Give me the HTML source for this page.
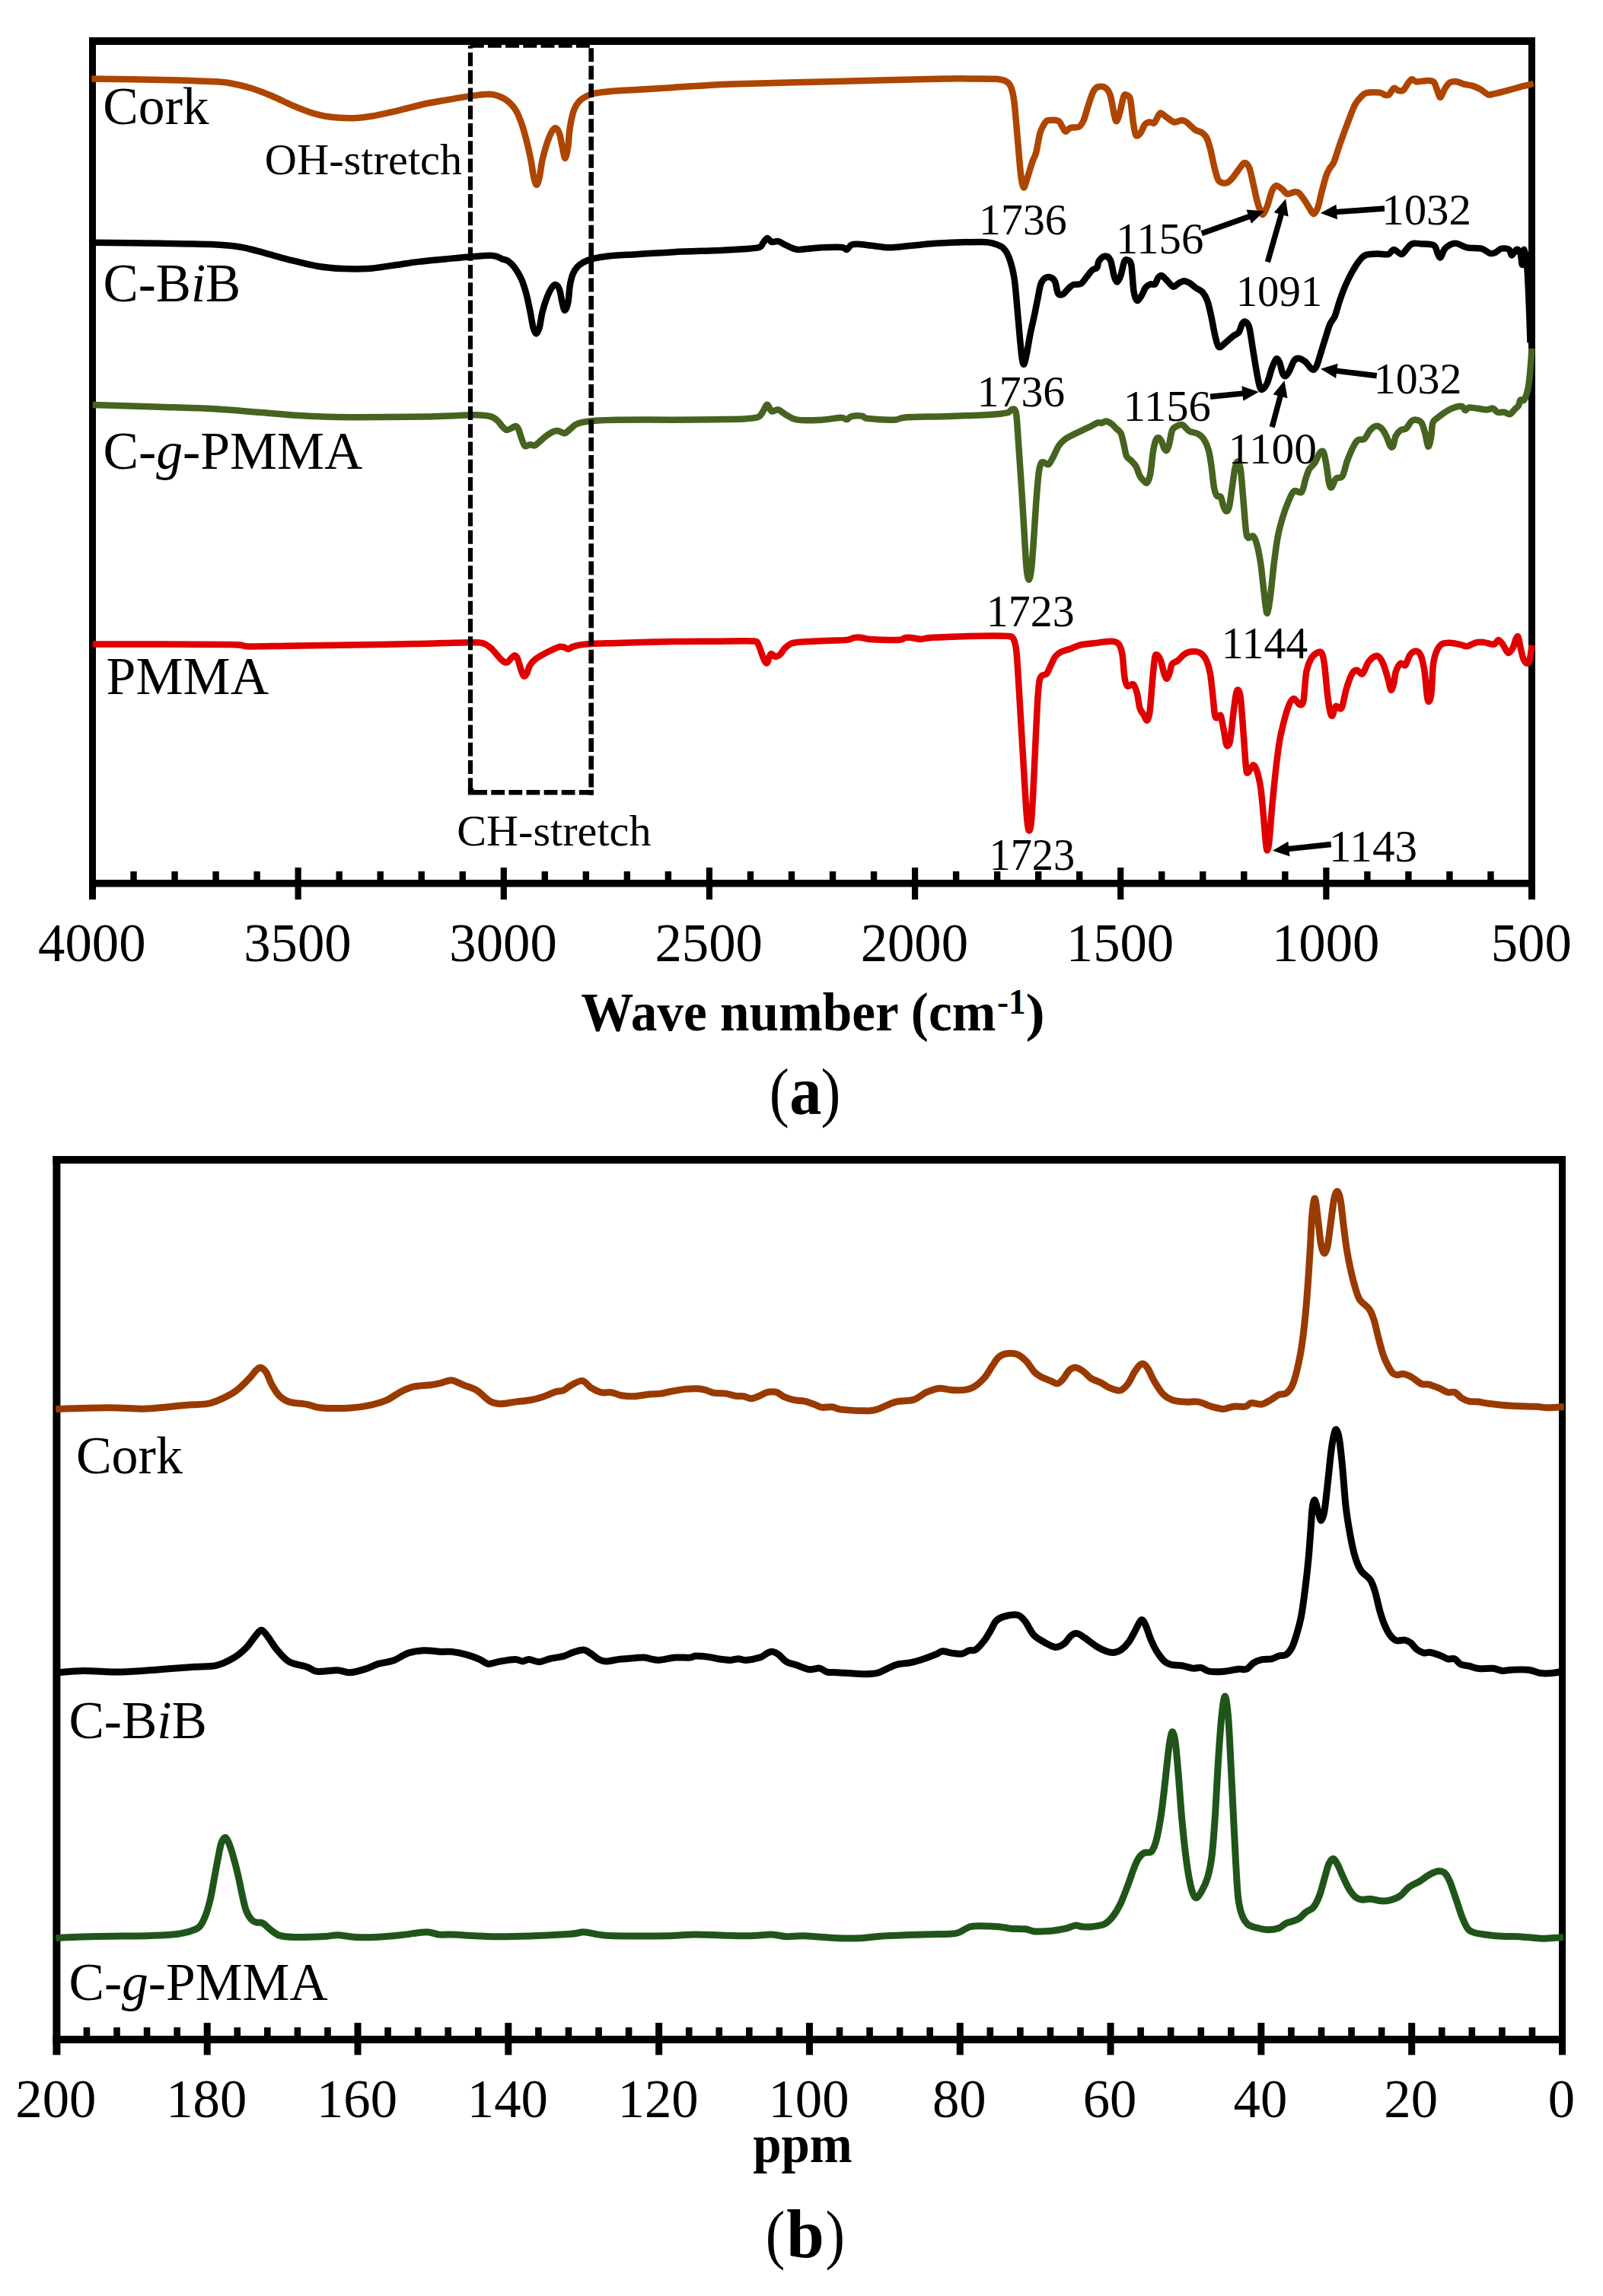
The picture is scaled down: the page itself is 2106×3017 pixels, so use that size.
<!DOCTYPE html>
<html><head><meta charset="utf-8"><title>FTIR and NMR spectra</title>
<style>html,body{margin:0;padding:0;background:#fff}svg{display:block}text{font-family:"Liberation Serif",serif;fill:#000}</style>
</head><body>
<svg width="2106" height="3017" viewBox="0 0 2106 3017">
<rect width="2106" height="3017" fill="#fff"/>
<rect x="117" y="49" width="1900" height="10" fill="#000"/>
<rect x="117" y="49" width="9" height="1133" fill="#000"/>
<rect x="2008" y="49" width="9" height="1133" fill="#000"/>
<rect x="117" y="1156" width="1900" height="9.5" fill="#000"/>
<rect x="387.54" y="1140" width="8.2" height="42" fill="#000"/>
<rect x="657.69" y="1140" width="8.2" height="42" fill="#000"/>
<rect x="927.83" y="1140" width="8.2" height="42" fill="#000"/>
<rect x="1197.97" y="1140" width="8.2" height="42" fill="#000"/>
<rect x="1468.11" y="1140" width="8.2" height="42" fill="#000"/>
<rect x="1738.26" y="1140" width="8.2" height="42" fill="#000"/>
<rect x="171.33" y="1145" width="8.4" height="15" fill="#000"/>
<rect x="225.36" y="1145" width="8.4" height="15" fill="#000"/>
<rect x="279.39" y="1145" width="8.4" height="15" fill="#000"/>
<rect x="333.41" y="1145" width="8.4" height="15" fill="#000"/>
<rect x="441.47" y="1145" width="8.4" height="15" fill="#000"/>
<rect x="495.5" y="1145" width="8.4" height="15" fill="#000"/>
<rect x="549.53" y="1145" width="8.4" height="15" fill="#000"/>
<rect x="603.56" y="1145" width="8.4" height="15" fill="#000"/>
<rect x="711.61" y="1145" width="8.4" height="15" fill="#000"/>
<rect x="765.64" y="1145" width="8.4" height="15" fill="#000"/>
<rect x="819.67" y="1145" width="8.4" height="15" fill="#000"/>
<rect x="873.7" y="1145" width="8.4" height="15" fill="#000"/>
<rect x="981.76" y="1145" width="8.4" height="15" fill="#000"/>
<rect x="1035.79" y="1145" width="8.4" height="15" fill="#000"/>
<rect x="1089.81" y="1145" width="8.4" height="15" fill="#000"/>
<rect x="1143.84" y="1145" width="8.4" height="15" fill="#000"/>
<rect x="1251.9" y="1145" width="8.4" height="15" fill="#000"/>
<rect x="1305.93" y="1145" width="8.4" height="15" fill="#000"/>
<rect x="1359.96" y="1145" width="8.4" height="15" fill="#000"/>
<rect x="1413.99" y="1145" width="8.4" height="15" fill="#000"/>
<rect x="1522.04" y="1145" width="8.4" height="15" fill="#000"/>
<rect x="1576.07" y="1145" width="8.4" height="15" fill="#000"/>
<rect x="1630.1" y="1145" width="8.4" height="15" fill="#000"/>
<rect x="1684.13" y="1145" width="8.4" height="15" fill="#000"/>
<rect x="1792.19" y="1145" width="8.4" height="15" fill="#000"/>
<rect x="1846.21" y="1145" width="8.4" height="15" fill="#000"/>
<rect x="1900.24" y="1145" width="8.4" height="15" fill="#000"/>
<rect x="1954.27" y="1145" width="8.4" height="15" fill="#000"/>
<path transform="translate(0,0.4)" d="M120.3,103C135.12,103.27 187.09,104.09 212.9,104.7C238.71,105.31 267.33,106.14 281.6,106.8C295.87,107.46 294.42,107.44 302.1,108.8C309.78,110.16 320.82,112.61 329.6,115.3C338.38,117.99 348.22,121.92 357,125.6C365.78,129.28 376.26,134.78 384.5,138.3C392.74,141.82 400.82,145.23 408.5,147.6C416.18,149.97 423.72,151.95 432.5,153.1C441.28,154.25 454.62,154.91 463.4,154.8C472.18,154.69 478.07,153.94 487.4,152.4C496.73,150.86 510.72,147.73 521.7,145.2C532.68,142.67 545.87,138.83 556,136.6C566.13,134.37 575.56,132.91 585,131.25C594.44,129.59 607,127.45 615,126.25C623,125.05 629.8,124.15 635,123.75C640.2,123.35 643.5,123.07 647.5,123.75C651.5,124.43 656.4,126.2 660,128C663.6,129.8 667,132.08 670,135C673,137.92 676.15,141.45 678.75,146.25C681.35,151.05 684.05,158.4 686.25,165C688.45,171.6 690.7,180.3 692.5,187.5C694.3,194.7 696.1,202.8 697.5,210C698.9,217.2 700.05,227.3 701.25,232.5C702.45,237.7 703.8,242.5 705,242.5C706.2,242.5 707.55,237.7 708.75,232.5C709.95,227.3 710.9,217.2 712.5,210C714.1,202.8 716.75,193.5 718.75,187.5C720.75,181.5 723.2,175.62 725,172.5C726.8,169.38 728.4,167.6 730,168C731.6,168.4 733.6,171.08 735,175C736.4,178.92 737.55,187.3 738.75,192.5C739.95,197.7 741.3,207.5 742.5,207.5C743.7,207.5 745.25,198.9 746.25,192.5C747.25,186.1 747.55,175.1 748.75,167.5C749.95,159.9 751.95,150.4 753.75,145C755.55,139.6 757.6,136.63 760,133.75C762.4,130.87 765.55,128.8 768.75,127C771.95,125.2 775.4,123.62 780,122.5C784.6,121.38 788.7,120.8 797.5,120C806.3,119.2 821,118.38 835,117.5C849,116.62 864.88,115.7 885,114.5C905.12,113.3 926.35,111.28 960.75,110C995.15,108.72 1055.32,107.62 1100,106.5C1144.68,105.38 1212.4,103.56 1240,103C1267.6,102.44 1261.7,102.96 1272.5,103C1283.3,103.04 1299.9,102.85 1307.5,103.25C1315.1,103.65 1316.8,104.02 1320,105.5C1323.2,106.98 1325.58,108.58 1327.5,112.5C1329.42,116.42 1330.8,122.4 1332,130C1333.2,137.6 1334.04,149.6 1335,160C1335.96,170.4 1337,183.8 1338,195C1339,206.2 1340.13,221.84 1341.25,230C1342.37,238.16 1343.6,245.6 1345,246C1346.4,246.4 1348.2,237.86 1350,232.5C1351.8,227.14 1354.45,217.7 1356.25,212.5C1358.05,207.3 1359.65,206 1361.25,200C1362.85,194 1364.65,180.8 1366.25,175C1367.85,169.2 1369.65,166.47 1371.25,163.75C1372.85,161.03 1373.25,158.88 1376.25,158C1379.25,157.12 1387,157.13 1390,158.25C1393,159.37 1393.4,162.72 1395,165C1396.6,167.28 1398.2,172.1 1400,172.5C1401.8,172.9 1403.45,168.5 1406.25,167.5C1409.05,166.5 1414.7,167.85 1417.5,166.25C1420.3,164.65 1421.75,162.1 1423.75,157.5C1425.75,152.9 1428,143.5 1430,137.5C1432,131.5 1434.25,123.8 1436.25,120C1438.25,116.2 1439.9,114.55 1442.5,113.75C1445.1,112.95 1449.9,113.2 1452.5,115C1455.1,116.8 1456.95,119.4 1458.75,125C1460.55,130.6 1462.43,144.6 1463.75,150C1465.07,155.4 1465.8,159.15 1467,158.75C1468.2,158.35 1469.77,152.7 1471.25,147.5C1472.73,142.3 1474.85,129.93 1476.25,126.25C1477.65,122.57 1478.6,123.9 1480,124.5C1481.4,125.1 1483.6,124.32 1485,130C1486.4,135.68 1487.55,152.4 1488.75,160C1489.95,167.6 1490.9,175.3 1492.5,177.5C1494.1,179.7 1496.95,175.95 1498.75,173.75C1500.55,171.55 1501.95,165.95 1503.75,163.75C1505.55,161.55 1508,160.4 1510,160C1512,159.6 1514.45,162.45 1516.25,161.25C1518.05,160.05 1519.85,154.62 1521.25,152.5C1522.65,150.38 1523.4,148 1525,148C1526.6,148 1528.45,150.58 1531.25,152.5C1534.05,154.42 1539.1,159.2 1542.5,160C1545.9,160.8 1549.9,157.5 1552.5,157.5C1555.1,157.5 1555.95,158 1558.75,160C1561.55,162 1566.8,167.8 1570,170C1573.2,172.2 1576.35,172.15 1578.75,173.75C1581.15,175.35 1583.2,176.6 1585,180C1586.8,183.4 1588.4,189 1590,195C1591.6,201 1593.4,211.1 1595,217.5C1596.6,223.9 1598.4,231.48 1600,235C1601.6,238.52 1603,238.78 1605,239.5C1607,240.22 1610.1,240.62 1612.5,239.5C1614.9,238.38 1617.4,235.54 1620,232.5C1622.6,229.46 1626.35,223.54 1628.75,220.5C1631.15,217.46 1633,213.58 1635,213.5C1637,213.42 1639.45,215.76 1641.25,220C1643.05,224.24 1644.65,233.2 1646.25,240C1647.85,246.8 1649.65,256.5 1651.25,262.5C1652.85,268.5 1654.93,274.54 1656.25,277.5C1657.57,280.46 1658.1,282.2 1659.5,281C1660.9,279.8 1663.12,274.96 1665,270C1666.88,265.04 1669.33,254.24 1671.25,250C1673.17,245.76 1674.8,243.7 1677,243.5C1679.2,243.3 1682.72,246.99 1685,248.75C1687.28,250.51 1688.85,253.98 1691.25,254.5C1693.65,255.02 1697.6,252.24 1700,252C1702.4,251.76 1704.05,251.32 1706.25,253C1708.45,254.68 1711.55,259.38 1713.75,262.5C1715.95,265.62 1718.12,269.62 1720,272.5C1721.88,275.38 1723.7,280.5 1725.5,280.5C1727.3,280.5 1729.53,276.98 1731.25,272.5C1732.97,268.02 1734.45,259.3 1736.25,252.5C1738.05,245.7 1740.7,235.2 1742.5,230C1744.3,224.8 1745.9,222.8 1747.5,220C1749.1,217.2 1750.5,217.3 1752.5,212.5C1754.5,207.7 1757.2,198 1760,190C1762.8,182 1766.8,170.9 1770,162.5C1773.2,154.1 1777.2,143.1 1780,137.5C1782.8,131.9 1785.1,130.02 1787.5,127.5C1789.9,124.98 1791,122.75 1795,121.75C1799,120.75 1808.5,120.81 1812.5,121.25C1816.5,121.69 1818,124.1 1820,124.5C1822,124.9 1823.2,125.19 1825,123.75C1826.8,122.31 1829.25,116.3 1831.25,115.5C1833.25,114.7 1835.5,118.35 1837.5,118.75C1839.5,119.15 1841.75,119.6 1843.75,118C1845.75,116.4 1848.2,111.03 1850,108.75C1851.8,106.47 1853.2,104.03 1855,103.75C1856.8,103.47 1858.05,106.72 1861.25,107C1864.45,107.28 1871.4,105.42 1875,105.5C1878.6,105.58 1881.55,105.18 1883.75,107.5C1885.95,109.82 1887.35,116.8 1888.75,120C1890.15,123.2 1891.1,127.9 1892.5,127.5C1893.9,127.1 1895.7,120.5 1897.5,117.5C1899.3,114.5 1901.75,110.47 1903.75,108.75C1905.75,107.03 1908,106.95 1910,106.75C1912,106.55 1914.25,106.98 1916.25,107.5C1918.25,108.02 1919.5,109.2 1922.5,110C1925.5,110.8 1931.4,111.38 1935,112.5C1938.6,113.62 1941.8,115.2 1945,117C1948.2,118.8 1952.2,122.79 1955,123.75C1957.8,124.71 1958.1,123.92 1962.5,123C1966.9,122.08 1976.5,119.6 1982.5,118C1988.5,116.4 1994.88,114.36 2000,113C2005.12,111.64 2012.18,110.06 2014.5,109.5" fill="none" stroke="#AE4500" stroke-width="8.5" stroke-linejoin="round" stroke-linecap="butt"/>
<path transform="translate(0,0.4)" d="M121.5,318.3C135.66,318.46 185.17,318.92 210,319.3C234.83,319.68 259.63,319.9 276.7,320.7C293.77,321.5 304.97,322.38 316.7,324.3C328.43,326.22 339.34,329.92 350,332.7C360.66,335.48 372.63,339.04 383.3,341.7C393.97,344.36 406.03,347.54 416.7,349.3C427.37,351.06 439.34,352.16 450,352.7C460.66,353.24 472.63,353.4 483.3,352.7C493.97,352 506.03,349.77 516.7,348.3C527.37,346.83 539.07,344.83 550,343.5C560.93,342.17 574.2,341.04 585,340C595.8,338.96 607.5,337.72 617.5,337C627.5,336.28 640.7,335.02 647.5,335.5C654.3,335.98 656.8,338.88 660,340C663.2,341.12 664.9,340.7 667.5,342.5C670.1,344.3 673.45,347.45 676.25,351.25C679.05,355.05 682.6,360.85 685,366.25C687.4,371.65 689.45,378.4 691.25,385C693.05,391.6 694.77,400.3 696.25,407.5C697.73,414.7 699.18,425.12 700.5,430C701.82,434.88 703.18,438 704.5,438C705.82,438 707.47,434.48 708.75,430C710.03,425.52 710.9,416.4 712.5,410C714.1,403.6 716.75,395.2 718.75,390C720.75,384.8 723.2,380.1 725,377.5C726.8,374.9 728.4,373.35 730,373.75C731.6,374.15 733.6,376.2 735,380C736.4,383.8 737.63,393.1 738.75,397.5C739.87,401.9 740.8,407.5 742,407.5C743.2,407.5 745.17,402.7 746.25,397.5C747.33,392.3 747.75,381 748.75,375C749.75,369 750.9,364 752.5,360C754.1,356 756.35,352.6 758.75,350C761.15,347.4 764.1,345.47 767.5,343.75C770.9,342.03 775.2,340.45 780,339.25C784.8,338.05 788.7,337.13 797.5,336.25C806.3,335.37 821,334.63 835,333.75C849,332.87 868.2,331.55 885,330.75C901.8,329.95 927.2,329.27 940,328.75C952.8,328.23 956,328.1 965,327.5C974,326.9 990.25,326.4 996.25,325C1002.25,323.6 1000.62,320.75 1002.5,318.75C1004.38,316.75 1006.2,312.7 1008,312.5C1009.8,312.3 1011.43,316.82 1013.75,317.5C1016.07,318.18 1019.5,316.07 1022.5,316.75C1025.5,317.43 1028.5,320.03 1032.5,321.75C1036.5,323.47 1041.5,326.9 1047.5,327.5C1053.5,328.1 1060.8,325.98 1070,325.5C1079.2,325.02 1098.2,324.18 1105,324.5C1111.8,324.82 1110.3,328.02 1112.5,327.5C1114.7,326.98 1115.95,322.37 1118.75,321.25C1121.55,320.13 1123.4,320.02 1130,320.5C1136.6,320.98 1152.8,323.61 1160,324.25C1167.2,324.89 1166.2,325.1 1175,324.5C1183.8,323.9 1204.6,321.42 1215,320.5C1225.4,319.58 1228,319.23 1240,318.75C1252,318.27 1279.6,317.38 1290,317.5C1300.4,317.62 1300.6,318.3 1305,319.5C1309.4,320.7 1314.14,321.88 1317.5,325C1320.86,328.12 1323.6,332.6 1326,339C1328.4,345.4 1330.86,354.84 1332.5,365C1334.14,375.16 1335.05,389.7 1336.25,402.5C1337.45,415.3 1338.92,433.8 1340,445C1341.08,456.2 1342.12,467.22 1343,472.5C1343.88,477.78 1344.58,479.2 1345.5,478C1346.42,476.8 1347.43,471.48 1348.75,465C1350.07,458.52 1352.15,445.5 1353.75,437.5C1355.35,429.5 1357.15,422.6 1358.75,415C1360.35,407.4 1362.35,396.8 1363.75,390C1365.15,383.2 1365.9,376.58 1367.5,372.5C1369.1,368.42 1371.55,365.78 1373.75,364.5C1375.95,363.22 1379.25,363.62 1381.25,364.5C1383.25,365.38 1384.85,366.72 1386.25,370C1387.65,373.28 1388.4,382.4 1390,385C1391.6,387.6 1394.05,387.25 1396.25,386.25C1398.45,385.25 1401.55,380.75 1403.75,378.75C1405.95,376.75 1407.4,374.75 1410,373.75C1412.6,372.75 1417.2,374.1 1420,372.5C1422.8,370.9 1425.1,366.63 1427.5,363.75C1429.9,360.87 1432.8,356.5 1435,354.5C1437.2,352.5 1439.85,353.17 1441.25,351.25C1442.65,349.33 1442.15,344.9 1443.75,342.5C1445.35,340.1 1448.85,336.45 1451.25,336.25C1453.65,336.05 1456.75,337.05 1458.75,341.25C1460.75,345.45 1462.27,357.9 1463.75,362.5C1465.23,367.1 1466.6,370.2 1468,370C1469.4,369.8 1471.06,365.45 1472.5,361.25C1473.94,357.05 1475.6,346.95 1477,343.75C1478.4,340.55 1479.77,340.65 1481.25,341.25C1482.73,341.85 1484.93,340.9 1486.25,347.5C1487.57,354.1 1488.3,374.98 1489.5,382.5C1490.7,390.02 1492.07,393.7 1493.75,394.5C1495.43,395.3 1498.2,390.22 1500,387.5C1501.8,384.78 1503.2,379.82 1505,377.5C1506.8,375.18 1509.25,373.72 1511.25,373C1513.25,372.28 1515.9,374.28 1517.5,373C1519.1,371.72 1519.85,366.8 1521.25,365C1522.65,363.2 1524.45,361.35 1526.25,361.75C1528.05,362.15 1530.1,365.18 1532.5,367.5C1534.9,369.82 1538.85,375.45 1541.25,376.25C1543.65,377.05 1545.3,373.7 1547.5,372.5C1549.7,371.3 1552.6,368.95 1555,368.75C1557.4,368.55 1559.9,369.77 1562.5,371.25C1565.1,372.73 1568.45,376 1571.25,378C1574.05,380 1577.6,381.03 1580,383.75C1582.4,386.47 1584.45,390 1586.25,395C1588.05,400 1589.65,407.8 1591.25,415C1592.85,422.2 1594.65,433.52 1596.25,440C1597.85,446.48 1599.05,453.9 1601.25,455.5C1603.45,457.1 1607,452.28 1610,450C1613,447.72 1617.2,443.45 1620,441.25C1622.8,439.05 1625.58,438.85 1627.5,436.25C1629.42,433.65 1630.6,427.2 1632,425C1633.4,422.8 1634.77,421.7 1636.25,422.5C1637.73,423.3 1639.65,424 1641.25,430C1642.85,436 1644.65,450.4 1646.25,460C1647.85,469.6 1649.85,482.4 1651.25,490C1652.65,497.6 1653.84,504.1 1655,507.5C1656.16,510.9 1656.9,512.05 1658.5,511.25C1660.1,510.45 1662.96,507.1 1665,502.5C1667.04,497.9 1669.37,487.5 1671.25,482.5C1673.13,477.5 1675.15,472.25 1676.75,471.25C1678.35,470.25 1679.93,473.25 1681.25,476.25C1682.57,479.25 1683.8,487.2 1685,490C1686.2,492.8 1687.35,494.15 1688.75,493.75C1690.15,493.35 1691.95,490.7 1693.75,487.5C1695.55,484.3 1698,476.47 1700,473.75C1702,471.03 1703.85,470.3 1706.25,470.5C1708.65,470.7 1712.6,473.08 1715,475C1717.4,476.92 1719.57,480.82 1721.25,482.5C1722.93,484.18 1724.1,485.9 1725.5,485.5C1726.9,485.1 1728.28,484.08 1730,480C1731.72,475.92 1734.25,466.4 1736.25,460C1738.25,453.6 1740.7,445.6 1742.5,440C1744.3,434.4 1745.7,429 1747.5,425C1749.3,421 1751.75,419.8 1753.75,415C1755.75,410.2 1757.8,401.4 1760,395C1762.2,388.6 1764.7,381.4 1767.5,375C1770.3,368.6 1774.3,360.6 1777.5,355C1780.7,349.4 1784.7,343.28 1787.5,340C1790.3,336.72 1791.4,335.62 1795,334.5C1798.6,333.38 1805.4,333.12 1810,333C1814.6,332.88 1820.35,334.63 1823.75,333.75C1827.15,332.87 1828.45,327.5 1831.25,327.5C1834.05,327.5 1838.65,333.75 1841.25,333.75C1843.85,333.75 1845.3,329.7 1847.5,327.5C1849.7,325.3 1851.8,321.2 1855,320C1858.2,318.8 1862.9,319.68 1867.5,320C1872.1,320.32 1880.35,320 1883.75,322C1887.15,324 1887.35,329.94 1888.75,332.5C1890.15,335.06 1891.1,338.8 1892.5,338C1893.9,337.2 1895.5,330.18 1897.5,327.5C1899.5,324.82 1902.4,322.53 1905,321.25C1907.6,319.97 1910.15,318.9 1913.75,319.5C1917.35,320.1 1922.3,323.92 1927.5,325C1932.7,326.08 1941.45,325.05 1946.25,326.25C1951.05,327.45 1954.5,331.7 1957.5,332.5C1960.5,333.3 1962.6,332.25 1965,331.25C1967.4,330.25 1969.7,326.85 1972.5,326.25C1975.3,325.65 1980.3,326.1 1982.5,327.5C1984.7,328.9 1984.65,335 1986.25,335C1987.85,335 1990.7,327.9 1992.5,327.5C1994.3,327.1 1996.3,329.3 1997.5,332.5C1998.7,335.7 1999.2,348.3 2000,347.5C2000.8,346.7 2001.5,327.1 2002.5,327.5C2003.5,327.9 2005.25,338.4 2006.25,350C2007.25,361.6 2008.07,384 2008.75,400C2009.43,416 2010.22,442 2010.5,450" fill="none" stroke="#000" stroke-width="8.5" stroke-linejoin="round" stroke-linecap="butt"/>
<path transform="translate(0,0.4)" d="M121.7,531.7C135.83,532.12 185.2,533.5 210,534.3C234.8,535.1 255.37,535.52 276.7,536.7C298.03,537.88 324.64,540.26 343.3,541.7C361.96,543.14 377.3,544.74 393.3,545.7C409.3,546.66 424.63,547.38 443.3,547.7C461.97,548.02 491.33,547.81 510,547.7C528.67,547.59 546,547.31 560,547C574,546.69 586.3,546.07 597.5,545.75C608.7,545.43 622.4,544.8 630,545C637.6,545.2 641.2,545.8 645,547C648.8,548.2 651.35,550.42 653.75,552.5C656.15,554.58 658.12,558.08 660,560C661.88,561.92 663.5,564.18 665.5,564.5C667.5,564.82 670.58,562.8 672.5,562C674.42,561.2 676.1,559.22 677.5,559.5C678.9,559.78 680.05,561.27 681.25,563.75C682.45,566.23 683.68,571.52 685,575C686.32,578.48 687.7,584.1 689.5,585.5C691.3,586.9 694.17,583.83 696.25,583.75C698.33,583.67 700.5,585.6 702.5,585C704.5,584.4 706.35,582 708.75,580C711.15,578 714.7,574.58 717.5,572.5C720.3,570.42 723.85,568.12 726.25,567C728.65,565.88 730.7,565.42 732.5,565.5C734.3,565.58 735.9,566.98 737.5,567.5C739.1,568.02 740.7,569.35 742.5,568.75C744.3,568.15 746.55,565.55 748.75,563.75C750.95,561.95 753.65,558.98 756.25,557.5C758.85,556.02 761.2,555.3 765,554.5C768.8,553.7 772.8,553.02 780,552.5C787.2,551.98 793.2,551.45 810,551.25C826.8,551.05 864.2,551.33 885,551.25C905.8,551.17 925.2,550.95 940,550.75C954.8,550.55 968.5,550.52 977.5,550C986.5,549.48 992.25,549.1 996.25,547.5C1000.25,545.9 1000.62,542.6 1002.5,540C1004.38,537.4 1006.2,531.25 1008,531.25C1009.8,531.25 1011.43,538.92 1013.75,540C1016.07,541.08 1019.5,537.28 1022.5,538C1025.5,538.72 1028.5,542.38 1032.5,544.5C1036.5,546.62 1039.9,550.17 1047.5,551.25C1055.1,552.33 1070.8,551.73 1080,551.25C1089.2,550.77 1099.8,548.33 1105,548.25C1110.2,548.17 1110.3,550.99 1112.5,550.75C1114.7,550.51 1115.55,547.47 1118.75,546.75C1121.95,546.03 1129.1,545.81 1132.5,546.25C1135.9,546.69 1133.2,548.7 1140,549.5C1146.8,550.3 1167,551.49 1175,551.25C1183,551.01 1179.6,548.72 1190,548C1200.4,547.28 1224,547.23 1240,546.75C1256,546.27 1278,545.56 1290,545C1302,544.44 1309.4,543.81 1315,543.25C1320.6,542.69 1322.6,542.46 1325,541.5C1327.4,540.54 1328.4,537.01 1330,537.25C1331.6,537.49 1333.68,535.36 1335,543C1336.32,550.64 1337.05,568.28 1338.25,585C1339.45,601.72 1341.22,627.5 1342.5,647.5C1343.78,667.5 1345.25,694 1346.25,710C1347.25,726 1347.87,739.3 1348.75,747.5C1349.63,755.7 1350.75,761.25 1351.75,761.25C1352.75,761.25 1354,755.7 1355,747.5C1356,739.3 1357,724 1358,710C1359,696 1360.21,674 1361.25,660C1362.29,646 1363.5,630.7 1364.5,622.5C1365.5,614.3 1366.42,611.23 1367.5,608.75C1368.58,606.27 1369.65,606.8 1371.25,607C1372.85,607.2 1375.5,611.12 1377.5,610C1379.5,608.88 1381.55,604 1383.75,600C1385.95,596 1388.65,588.8 1391.25,585C1393.85,581.2 1396.6,578.73 1400,576.25C1403.4,573.77 1407.7,571.9 1412.5,569.5C1417.3,567.1 1425.2,563.57 1430,561.25C1434.8,558.93 1439.7,555.92 1442.5,555C1445.3,554.08 1445.82,555.82 1447.5,555.5C1449.18,555.18 1451,552.88 1453,553C1455,553.12 1457.88,554.73 1460,556.25C1462.12,557.77 1464.25,560.5 1466.25,562.5C1468.25,564.5 1470.9,565.55 1472.5,568.75C1474.1,571.95 1475.05,577.7 1476.25,582.5C1477.45,587.3 1478.4,595.15 1480,598.75C1481.6,602.35 1484.25,602.8 1486.25,605C1488.25,607.2 1490.7,609.3 1492.5,612.5C1494.3,615.7 1495.9,622 1497.5,625C1499.1,628 1500.98,629.85 1502.5,631.25C1504.02,632.65 1505.6,635.15 1507,633.75C1508.4,632.35 1509.97,629.1 1511.25,622.5C1512.53,615.9 1513.8,599.7 1515,592.5C1516.2,585.3 1517.55,580.3 1518.75,577.5C1519.95,574.7 1521.3,574.6 1522.5,575C1523.7,575.4 1525.13,577.8 1526.25,580C1527.37,582.2 1528.42,586.95 1529.5,588.75C1530.58,590.55 1531.92,592.25 1533,591.25C1534.08,590.25 1535.13,586.7 1536.25,582.5C1537.37,578.3 1538.4,568.68 1540,565C1541.6,561.32 1544.05,560.62 1546.25,559.5C1548.45,558.38 1551.15,556.92 1553.75,558C1556.35,559.08 1559.3,564.41 1562.5,566.25C1565.7,568.09 1570.75,567.9 1573.75,569.5C1576.75,571.1 1579.05,572.97 1581.25,576.25C1583.45,579.53 1585.9,584.6 1587.5,590C1589.1,595.4 1590.05,602 1591.25,610C1592.45,618 1593.8,633.4 1595,640C1596.2,646.6 1597.35,649.25 1598.75,651.25C1600.15,653.25 1602.35,650.3 1603.75,652.5C1605.15,654.7 1606.3,662 1607.5,665C1608.7,668 1610.05,671.25 1611.25,671.25C1612.45,671.25 1613.8,670 1615,665C1616.2,660 1617.55,648 1618.75,640C1619.95,632 1621.3,620.4 1622.5,615C1623.7,609.6 1625.05,605.85 1626.25,606.25C1627.45,606.65 1628.8,608.9 1630,617.5C1631.2,626.1 1632.63,647.2 1633.75,660C1634.87,672.8 1636,690.1 1637,697.5C1638,704.9 1638.52,705.21 1640,706.25C1641.48,707.29 1644.45,702.6 1646.25,704C1648.05,705.4 1649.65,709.24 1651.25,715C1652.85,720.76 1654.85,730.8 1656.25,740C1657.65,749.2 1658.92,763.3 1660,772.5C1661.08,781.7 1662.2,792.3 1663,797.5C1663.8,802.7 1664.08,807 1665,805C1665.92,803 1667.35,795.4 1668.75,785C1670.15,774.6 1672.15,752.8 1673.75,740C1675.35,727.2 1676.95,714.6 1678.75,705C1680.55,695.4 1682.8,687.36 1685,680C1687.2,672.64 1690.1,664.6 1692.5,659C1694.9,653.4 1697.2,647.04 1700,645C1702.8,642.96 1707.6,648.65 1710,646.25C1712.4,643.85 1713.4,634.8 1715,630C1716.6,625.2 1718,619.85 1720,616.25C1722,612.65 1725.3,610.9 1727.5,607.5C1729.7,604.1 1731.95,597.2 1733.75,595C1735.55,592.8 1737.35,591.35 1738.75,593.75C1740.15,596.15 1741.3,603.4 1742.5,610C1743.7,616.6 1745.13,630.2 1746.25,635C1747.37,639.8 1748.1,641 1749.5,640C1750.9,639 1752.72,631.15 1755,628.75C1757.28,626.35 1761.35,628.8 1763.75,625C1766.15,621.2 1767.8,611 1770,605C1772.2,599 1775.3,591.82 1777.5,587.5C1779.7,583.18 1781.35,579.8 1783.75,578C1786.15,576.2 1789.9,578.33 1792.5,576.25C1795.1,574.17 1797.6,567.68 1800,565C1802.4,562.32 1805.1,559.9 1807.5,559.5C1809.9,559.1 1812.8,560.42 1815,562.5C1817.2,564.58 1819.45,568.9 1821.25,572.5C1823.05,576.1 1824.85,582.8 1826.25,585C1827.65,587.2 1828.8,588.25 1830,586.25C1831.2,584.25 1832.15,575.9 1833.75,572.5C1835.35,569.1 1837.8,566.6 1840,565C1842.2,563.4 1845.3,564.3 1847.5,562.5C1849.7,560.7 1851.75,555.55 1853.75,553.75C1855.75,551.95 1857.8,551.05 1860,551.25C1862.2,551.45 1865.5,552 1867.5,555C1869.5,558 1871.1,565 1872.5,570C1873.9,575 1875.05,585.45 1876.25,586.25C1877.45,587.05 1879,580 1880,575C1881,570 1880.9,559.4 1882.5,555C1884.1,550.6 1886.8,550.1 1890,547.5C1893.2,544.9 1898.9,540.83 1902.5,538.75C1906.1,536.67 1909.5,535.3 1912.5,534.5C1915.5,533.7 1919.25,533.07 1921.25,533.75C1923.25,534.43 1923.4,538.55 1925,538.75C1926.6,538.95 1926.85,535.12 1931.25,535C1935.65,534.88 1947.7,537.8 1952.5,538C1957.3,538.2 1958.85,535.73 1961.25,536.25C1963.65,536.77 1965.1,540.45 1967.5,541.25C1969.9,542.05 1973.65,540.85 1976.25,541.25C1978.85,541.65 1981.55,544.35 1983.75,543.75C1985.95,543.15 1988.2,539.3 1990,537.5C1991.8,535.7 1993.8,534.5 1995,532.5C1996.2,530.5 1996.3,526.2 1997.5,525C1998.7,523.8 2000.9,527.4 2002.5,525C2004.1,522.6 2006.22,516.4 2007.5,510C2008.78,503.6 2009.7,493.4 2010.5,485C2011.3,476.6 2012.18,461.9 2012.5,457.5" fill="none" stroke="#466320" stroke-width="8.5" stroke-linejoin="round" stroke-linecap="butt"/>
<path transform="translate(0,0.4)" d="M121.7,846C150.76,846.11 270.5,846.22 303.3,846.7C326.7,847.18 314.96,848.74 326.7,849C338.44,849.26 358.04,848.57 376.7,848.3C395.36,848.03 416.64,847.72 443.3,847.3C469.96,846.88 515.83,846.27 543.3,845.7C570.77,845.13 600.33,843.86 615,843.75C629.67,843.64 630.2,843.8 635,845C639.8,846.2 641.8,848.45 645,851.25C648.2,854.05 652.4,859.7 655,862.5C657.6,865.3 659.45,867.55 661.25,868.75C663.05,869.95 664.65,870.6 666.25,870C667.85,869.4 669.65,866.48 671.25,865C672.85,863.52 674.85,860.75 676.25,860.75C677.65,860.75 678.8,862.32 680,865C681.2,867.68 682.63,874.1 683.75,877.5C684.87,880.9 686.08,884.57 687,886.25C687.92,887.93 688.62,888.4 689.5,888C690.38,887.6 691.42,886.03 692.5,883.75C693.58,881.47 694.45,876.67 696.25,873.75C698.05,870.83 700.75,867.9 703.75,865.5C706.75,863.1 711.6,860.63 715,858.75C718.4,856.87 721.8,855.23 725,853.75C728.2,852.27 732.4,850.1 735,849.5C737.6,848.9 739.45,849.52 741.25,850C743.05,850.48 744.45,852.58 746.25,852.5C748.05,852.42 749.9,850.38 752.5,849.5C755.1,848.62 758.5,847.64 762.5,847C766.5,846.36 769.9,845.9 777.5,845.5C785.1,845.1 792.8,844.98 810,844.5C827.2,844.02 864.2,842.86 885,842.5C905.8,842.14 923.2,842.33 940,842.25C956.8,842.17 981,841.36 990,842C996.25,842.64 994.45,843.37 996.25,846.25C998.05,849.13 999.85,856.4 1001.25,860C1002.65,863.6 1003.92,867.07 1005,868.75C1006.08,870.43 1007,871.7 1008,870.5C1009,869.3 1010.33,863.13 1011.25,861.25C1012.17,859.37 1012.55,858.55 1013.75,858.75C1014.95,858.95 1016.95,862.38 1018.75,862.5C1020.55,862.62 1023,861.3 1025,859.5C1027,857.7 1028.85,853.57 1031.25,851.25C1033.65,848.93 1036.6,846.32 1040,845C1043.4,843.68 1044.5,843.6 1052.5,843C1060.5,842.4 1080.4,841.65 1090,841.25C1099.6,840.85 1107.3,841.1 1112.5,840.5C1117.7,839.9 1119.3,837.98 1122.5,837.5C1125.7,837.02 1129.3,837.18 1132.5,837.5C1135.7,837.82 1134.9,839.02 1142.5,839.5C1150.1,839.98 1172.4,840.82 1180,840.5C1187.6,840.18 1187.2,837.98 1190,837.5C1192.8,837.02 1194.3,837.18 1197.5,837.5C1200.7,837.82 1206,839.5 1210,839.5C1214,839.5 1213.7,838.1 1222.5,837.5C1231.3,836.9 1252.2,836.15 1265,835.75C1277.8,835.35 1292.9,835.04 1302.5,835C1312.1,834.96 1320.4,834.9 1325,835.5C1329.6,836.1 1329.65,836.03 1331.25,838.75C1332.85,841.47 1334,845.1 1335,852.5C1336,859.9 1336.5,869.8 1337.5,885C1338.5,900.2 1340.05,927.5 1341.25,947.5C1342.45,967.5 1343.92,992 1345,1010C1346.08,1028 1347.2,1048.4 1348,1060C1348.8,1071.6 1349.36,1077.54 1350,1082.5C1350.64,1087.46 1351.28,1091 1352,1091C1352.72,1091 1353.7,1089.46 1354.5,1082.5C1355.3,1075.54 1356.12,1063.1 1357,1047.5C1357.88,1031.9 1359.04,1005 1360,985C1360.96,965 1362.12,936.9 1363,922.5C1363.88,908.1 1364.58,900.6 1365.5,895C1366.42,889.4 1367.23,889.1 1368.75,887.5C1370.27,885.9 1373.2,887 1375,885C1376.8,883 1378.2,878.6 1380,875C1381.8,871.4 1384.05,865.5 1386.25,862.5C1388.45,859.5 1390.75,857.85 1393.75,856.25C1396.75,854.65 1400.8,853.98 1405,852.5C1409.2,851.02 1414.4,848.28 1420,847C1425.6,845.72 1435.2,845.14 1440,844.5C1444.8,843.86 1446.4,843.32 1450,843C1453.6,842.68 1459.3,841.98 1462.5,842.5C1465.7,843.02 1468.08,843.45 1470,846.25C1471.92,849.05 1473.3,853 1474.5,860C1475.7,867 1476.42,883.4 1477.5,890C1478.58,896.6 1479.45,899.85 1481.25,901.25C1483.05,902.65 1486.75,897.35 1488.75,898.75C1490.75,900.15 1492.35,905 1493.75,910C1495.15,915 1496.1,925.4 1497.5,930C1498.9,934.6 1500.98,936.15 1502.5,938.75C1504.02,941.35 1505.72,946.85 1507,946.25C1508.28,945.65 1509.42,942.8 1510.5,935C1511.58,927.2 1512.71,908.7 1513.75,897.5C1514.79,886.3 1516,871 1517,865C1518,859 1518.72,859.6 1520,860C1521.28,860.4 1523.48,863.5 1525,867.5C1526.52,871.5 1528.18,881.2 1529.5,885C1530.82,888.8 1532.05,891.65 1533.25,891.25C1534.45,890.85 1535.92,885.58 1537,882.5C1538.08,879.42 1538.32,874.4 1540,872C1541.68,869.6 1545.1,869.42 1547.5,867.5C1549.9,865.58 1552.6,861.8 1555,860C1557.4,858.2 1559.9,856.93 1562.5,856.25C1565.1,855.57 1568.65,855.35 1571.25,855.75C1573.85,856.15 1576.55,856.87 1578.75,858.75C1580.95,860.63 1583.2,863.3 1585,867.5C1586.8,871.7 1588.6,877 1590,885C1591.4,893 1592.75,908.7 1593.75,917.5C1594.75,926.3 1595.25,936 1596.25,940C1597.25,944 1598.8,942.5 1600,942.5C1601.2,942.5 1602.55,937.6 1603.75,940C1604.95,942.4 1606.38,951.7 1607.5,957.5C1608.62,963.3 1609.83,972.73 1610.75,976.25C1611.67,979.77 1612.37,980.1 1613.25,979.5C1614.13,978.9 1615.17,978.82 1616.25,972.5C1617.33,966.18 1618.8,949.6 1620,940C1621.2,930.4 1622.67,917.9 1623.75,912.5C1624.83,907.1 1625.75,905.45 1626.75,906.25C1627.75,907.05 1628.88,908.1 1630,917.5C1631.12,926.9 1632.63,950.6 1633.75,965C1634.87,979.4 1636.08,999.5 1637,1007.5C1637.92,1015.5 1638.02,1015.4 1639.5,1015C1640.98,1014.6 1644.37,1005.4 1646.25,1005C1648.13,1004.6 1649.65,1007.7 1651.25,1012.5C1652.85,1017.3 1654.85,1025.4 1656.25,1035C1657.65,1044.6 1658.92,1060.9 1660,1072.5C1661.08,1084.1 1662.2,1100.38 1663,1107.5C1663.8,1114.62 1664.28,1117.4 1665,1117C1665.72,1116.6 1666.5,1114.12 1667.5,1105C1668.5,1095.88 1669.85,1075.2 1671.25,1060C1672.65,1044.8 1674.65,1024 1676.25,1010C1677.85,996 1679.45,982.9 1681.25,972.5C1683.05,962.1 1685.5,952.6 1687.5,945C1689.5,937.4 1691.75,929.4 1693.75,925C1695.75,920.6 1697.8,917.42 1700,917.5C1702.2,917.58 1705.5,925.1 1707.5,925.5C1709.5,925.9 1711.1,926.88 1712.5,920C1713.9,913.12 1714.65,891.3 1716.25,882.5C1717.85,873.7 1720.3,869 1722.5,865C1724.7,861 1727.8,858.7 1730,857.5C1732.2,856.3 1734.65,855.1 1736.25,857.5C1737.85,859.9 1738.8,864.1 1740,872.5C1741.2,880.9 1742.55,900 1743.75,910C1744.95,920 1746.42,930.2 1747.5,935C1748.58,939.8 1749.3,941.2 1750.5,940C1751.7,938.8 1753.08,929.1 1755,927.5C1756.92,925.9 1760.3,933.6 1762.5,930C1764.7,926.4 1766.55,912.2 1768.75,905C1770.95,897.8 1774.05,889 1776.25,885C1778.45,881 1780.3,880 1782.5,880C1784.7,880 1787.6,886.6 1790,885C1792.4,883.4 1795.1,873.6 1797.5,870C1799.9,866.4 1802.8,863.7 1805,862.5C1807.2,861.3 1809.25,860.9 1811.25,862.5C1813.25,864.1 1815.5,867.7 1817.5,872.5C1819.5,877.3 1822.15,887.1 1823.75,892.5C1825.35,897.9 1826.3,905.45 1827.5,906.25C1828.7,907.05 1830.25,901.3 1831.25,897.5C1832.25,893.7 1832.35,886.7 1833.75,882.5C1835.15,878.3 1838,872.65 1840,871.25C1842,869.85 1844.25,875.55 1846.25,873.75C1848.25,871.95 1850.3,863 1852.5,860C1854.7,857 1857.8,855 1860,855C1862.2,855 1864.45,856 1866.25,860C1868.05,864 1869.85,871.2 1871.25,880C1872.65,888.8 1874,908.4 1875,915C1876,921.6 1876.62,922.05 1877.5,921.25C1878.38,920.45 1879.62,917.8 1880.5,910C1881.38,902.2 1881.88,881.3 1883,872.5C1884.12,863.7 1885.58,859.32 1887.5,855C1889.42,850.68 1891.8,847.18 1895,845.5C1898.2,843.82 1903.5,844.26 1907.5,844.5C1911.5,844.74 1916.8,846.32 1920,847C1923.2,847.68 1924.3,849.27 1927.5,848.75C1930.7,848.23 1936.4,844.55 1940,843.75C1943.6,842.95 1946.4,843.35 1950,843.75C1953.6,844.15 1959.5,846.77 1962.5,846.25C1965.5,845.73 1966.75,840.3 1968.75,840.5C1970.75,840.7 1973,844.78 1975,847.5C1977,850.22 1979.25,856.9 1981.25,857.5C1983.25,858.1 1985.9,854.05 1987.5,851.25C1989.1,848.45 1990.13,842.4 1991.25,840C1992.37,837.6 1993.5,834.65 1994.5,836.25C1995.5,837.85 1996.42,845.4 1997.5,850C1998.58,854.6 1999.85,861.6 2001.25,865C2002.65,868.4 2004.85,871.25 2006.25,871.25C2007.65,871.25 2009,868.8 2010,865C2011,861.2 2012.1,850.3 2012.5,847.5" fill="none" stroke="#E00000" stroke-width="8.5" stroke-linejoin="round" stroke-linecap="butt"/>
<path d="M618,60V1044.5" stroke="#000" fill="none" stroke-width="6.2" stroke-dasharray="18 5.25" stroke-dashoffset="14.35"/>
<path d="M776.7,60V1044.5" stroke="#000" fill="none" stroke-width="6.6" stroke-dasharray="18 5.25" stroke-dashoffset="19.95"/>
<path d="M622.2,1041.25H780" stroke="#000" fill="none" stroke-width="6.5" stroke-dasharray="17.8 5.3"/>
<path d="M617.7,59.6H780" stroke="#000" fill="none" stroke-width="6.4" stroke-dasharray="18 5.2"/>
<rect x="614.9" y="1036" width="7.6" height="8.5" fill="#000"/>
<rect x="773.4" y="1038" width="6.6" height="6.5" fill="#000"/>
<line x1="1578.7" y1="306.75" x2="1642.63" y2="283.95" stroke="#000" stroke-width="7.4"/>
<polygon points="1661,277.4 1644.04,293.85 1637.46,275.39" fill="#000"/>
<line x1="1665.4" y1="344.2" x2="1683.75" y2="279.95" stroke="#000" stroke-width="7.4"/>
<polygon points="1689.1,261.2 1692.62,284.56 1673.77,279.18" fill="#000"/>
<line x1="1819" y1="274" x2="1754.25" y2="278.61" stroke="#000" stroke-width="7.4"/>
<polygon points="1734.8,280 1755.55,268.7 1756.94,288.25" fill="#000"/>
<line x1="1590" y1="521.25" x2="1634.34" y2="516.9" stroke="#000" stroke-width="7.4"/>
<polygon points="1653.75,515 1633.31,526.85 1631.4,507.34" fill="#000"/>
<line x1="1671.25" y1="561.25" x2="1682.5" y2="518.85" stroke="#000" stroke-width="7.4"/>
<polygon points="1687.5,500 1691.46,523.29 1672.51,518.27" fill="#000"/>
<line x1="1808.75" y1="493.75" x2="1754.36" y2="487.11" stroke="#000" stroke-width="7.4"/>
<polygon points="1735,484.75 1757.53,477.63 1755.15,497.08" fill="#000"/>
<line x1="1748.75" y1="1109.5" x2="1691.39" y2="1115.67" stroke="#000" stroke-width="7.4"/>
<polygon points="1672,1117.75 1692.33,1105.71 1694.42,1125.2" fill="#000"/>
<text transform="translate(135.31,163.43) scale(0.6969,0.6873)" font-size="100">Cork</text>
<text transform="translate(347.86,228.64) scale(0.5838,0.5789)" font-size="100">OH-stretch</text>
<text transform="translate(135.53,396.35) scale(0.6921,0.7239)" font-size="100">C-B<tspan font-style="italic">i</tspan>B</text>
<text transform="translate(135.51,616.05) scale(0.6971,0.6977)" font-size="100">C-<tspan font-style="italic">g</tspan>-PMMA</text>
<text transform="translate(139.6,911.7) scale(0.6987,0.6970)" font-size="100">PMMA</text>
<text transform="translate(600.17,1111.46) scale(0.5820,0.5718)" font-size="100">CH-stretch</text>
<text transform="translate(1286.04,307.85) scale(0.5785,0.5735)" font-size="100">1736</text>
<text transform="translate(1465.96,333.34) scale(0.5883,0.5809)" font-size="100">1156</text>
<text transform="translate(1815.2,295.35) scale(0.5892,0.5735)" font-size="100">1032</text>
<text transform="translate(1623.64,401.61) scale(0.5676,0.5699)" font-size="100">1091</text>
<text transform="translate(1283.81,533.87) scale(0.5771,0.5662)" font-size="100">1736</text>
<text transform="translate(1475.72,552.85) scale(0.5870,0.5735)" font-size="100">1156</text>
<text transform="translate(1804.79,516.85) scale(0.5784,0.5735)" font-size="100">1032</text>
<text transform="translate(1613.4,608.85) scale(0.5943,0.5735)" font-size="100">1100</text>
<text transform="translate(1295.78,822.92) scale(0.5802,0.5821)" font-size="100">1723</text>
<text transform="translate(1604.8,865) scale(0.5780,0.5909)" font-size="100">1144</text>
<text transform="translate(1299.42,1143.42) scale(0.5642,0.5821)" font-size="100">1723</text>
<text transform="translate(1745.93,1132.17) scale(0.5915,0.5821)" font-size="100">1143</text>
<text transform="translate(763.31,1354.07) scale(0.6926,0.7111)" font-size="100"><tspan font-weight="bold">Wave number (cm</tspan></text>
<text transform="translate(1309.89,1331.9) scale(0.4514,0.4682)" font-size="100"><tspan font-weight="bold">-1</tspan></text>
<text transform="translate(1347.43,1354.18) scale(0.7577,0.7056)" font-size="100"><tspan font-weight="bold">)</tspan></text>
<text transform="translate(1010.78,1463.73) scale(0.7808,0.8700)" font-size="100">(</text>
<text transform="translate(1037.37,1464.1) scale(0.8444,0.9000)" font-size="100"><tspan font-weight="bold">a</tspan></text>
<text transform="translate(1078.47,1463.73) scale(0.7769,0.8700)" font-size="100">)</text>
<text transform="translate(120.8,1263.25) scale(0.7073,0.7269)" font-size="100" text-anchor="middle">4000</text>
<text transform="translate(390.94,1263.25) scale(0.7073,0.7269)" font-size="100" text-anchor="middle">3500</text>
<text transform="translate(661.09,1263.25) scale(0.7073,0.7269)" font-size="100" text-anchor="middle">3000</text>
<text transform="translate(931.23,1263.25) scale(0.7073,0.7269)" font-size="100" text-anchor="middle">2500</text>
<text transform="translate(1201.37,1263.25) scale(0.7073,0.7269)" font-size="100" text-anchor="middle">2000</text>
<text transform="translate(1471.51,1263.25) scale(0.7073,0.7269)" font-size="100" text-anchor="middle">1500</text>
<text transform="translate(1741.66,1263.25) scale(0.7073,0.7269)" font-size="100" text-anchor="middle">1000</text>
<text transform="translate(2011.8,1263.25) scale(0.7073,0.7269)" font-size="100" text-anchor="middle">500</text>
<rect x="69.4" y="1519" width="1987.6" height="10" fill="#000"/>
<rect x="69.4" y="1519" width="10" height="1181.3" fill="#000"/>
<rect x="2048" y="1519" width="9" height="1181.3" fill="#000"/>
<rect x="69.4" y="2675" width="1987.6" height="10" fill="#000"/>
<rect x="267.71" y="2658" width="9" height="42.3" fill="#000"/>
<rect x="465.52" y="2658" width="9" height="42.3" fill="#000"/>
<rect x="663.33" y="2658" width="9" height="42.3" fill="#000"/>
<rect x="861.14" y="2658" width="9" height="42.3" fill="#000"/>
<rect x="1058.95" y="2658" width="9" height="42.3" fill="#000"/>
<rect x="1256.76" y="2658" width="9" height="42.3" fill="#000"/>
<rect x="1454.57" y="2658" width="9" height="42.3" fill="#000"/>
<rect x="1652.38" y="2658" width="9" height="42.3" fill="#000"/>
<rect x="1850.19" y="2658" width="9" height="42.3" fill="#000"/>
<rect x="109.66" y="2664" width="8.6" height="16" fill="#000"/>
<rect x="149.22" y="2664" width="8.6" height="16" fill="#000"/>
<rect x="188.79" y="2664" width="8.6" height="16" fill="#000"/>
<rect x="228.35" y="2664" width="8.6" height="16" fill="#000"/>
<rect x="307.47" y="2664" width="8.6" height="16" fill="#000"/>
<rect x="347.03" y="2664" width="8.6" height="16" fill="#000"/>
<rect x="386.6" y="2664" width="8.6" height="16" fill="#000"/>
<rect x="426.16" y="2664" width="8.6" height="16" fill="#000"/>
<rect x="505.28" y="2664" width="8.6" height="16" fill="#000"/>
<rect x="544.84" y="2664" width="8.6" height="16" fill="#000"/>
<rect x="584.41" y="2664" width="8.6" height="16" fill="#000"/>
<rect x="623.97" y="2664" width="8.6" height="16" fill="#000"/>
<rect x="703.09" y="2664" width="8.6" height="16" fill="#000"/>
<rect x="742.65" y="2664" width="8.6" height="16" fill="#000"/>
<rect x="782.22" y="2664" width="8.6" height="16" fill="#000"/>
<rect x="821.78" y="2664" width="8.6" height="16" fill="#000"/>
<rect x="900.9" y="2664" width="8.6" height="16" fill="#000"/>
<rect x="940.46" y="2664" width="8.6" height="16" fill="#000"/>
<rect x="980.03" y="2664" width="8.6" height="16" fill="#000"/>
<rect x="1019.59" y="2664" width="8.6" height="16" fill="#000"/>
<rect x="1098.71" y="2664" width="8.6" height="16" fill="#000"/>
<rect x="1138.27" y="2664" width="8.6" height="16" fill="#000"/>
<rect x="1177.84" y="2664" width="8.6" height="16" fill="#000"/>
<rect x="1217.4" y="2664" width="8.6" height="16" fill="#000"/>
<rect x="1296.52" y="2664" width="8.6" height="16" fill="#000"/>
<rect x="1336.08" y="2664" width="8.6" height="16" fill="#000"/>
<rect x="1375.65" y="2664" width="8.6" height="16" fill="#000"/>
<rect x="1415.21" y="2664" width="8.6" height="16" fill="#000"/>
<rect x="1494.33" y="2664" width="8.6" height="16" fill="#000"/>
<rect x="1533.89" y="2664" width="8.6" height="16" fill="#000"/>
<rect x="1573.46" y="2664" width="8.6" height="16" fill="#000"/>
<rect x="1613.02" y="2664" width="8.6" height="16" fill="#000"/>
<rect x="1692.14" y="2664" width="8.6" height="16" fill="#000"/>
<rect x="1731.7" y="2664" width="8.6" height="16" fill="#000"/>
<rect x="1771.27" y="2664" width="8.6" height="16" fill="#000"/>
<rect x="1810.83" y="2664" width="8.6" height="16" fill="#000"/>
<rect x="1889.95" y="2664" width="8.6" height="16" fill="#000"/>
<rect x="1929.51" y="2664" width="8.6" height="16" fill="#000"/>
<rect x="1969.08" y="2664" width="8.6" height="16" fill="#000"/>
<rect x="2008.64" y="2664" width="8.6" height="16" fill="#000"/>
<path transform="translate(0,0.4)" d="M73.3,1851C84.5,1850.73 124.1,1849.35 143.3,1849.3C162.5,1849.25 177.3,1851.23 193.3,1850.7C209.3,1850.17 230.5,1847.07 243.3,1846C256.1,1844.93 265.3,1845.49 273.3,1844C281.3,1842.51 287.43,1839.37 293.3,1836.7C299.17,1834.03 304.66,1831.3 310,1827.3C315.34,1823.3 322.43,1816.07 326.7,1811.7C330.97,1807.33 334.14,1802.4 336.7,1800C339.26,1797.6 340.57,1796.17 342.7,1796.7C344.83,1797.23 347.76,1799.84 350,1803.3C352.24,1806.76 354.03,1813.5 356.7,1818.3C359.37,1823.1 362.97,1829.56 366.7,1833.3C370.43,1837.04 374.14,1839.83 380,1841.7C385.86,1843.57 396.9,1843.78 403.3,1845C409.7,1846.22 412,1848.5 420,1849.3C428,1850.1 443.7,1850.32 453.3,1850C462.9,1849.68 471.46,1848.9 480,1847.3C488.54,1845.7 499.23,1843.04 506.7,1840C514.17,1836.96 520.84,1831.23 526.7,1828.3C532.56,1825.37 536.9,1823.14 543.3,1821.7C549.7,1820.26 560.83,1820.1 566.7,1819.3C572.57,1818.5 575.74,1817.66 580,1816.7C584.26,1815.74 588.5,1812.77 593.3,1813.3C598.1,1813.83 604.66,1817.86 610,1820C615.34,1822.14 621.37,1823.39 626.7,1826.7C632.03,1830.01 638.5,1837.88 643.3,1840.7C648.1,1843.52 651.36,1844.14 656.7,1844.3C662.04,1844.46 670.3,1842.5 676.7,1841.7C683.1,1840.9 690.84,1840.37 696.7,1839.3C702.56,1838.23 707.97,1836.76 713.3,1835C718.63,1833.24 725.73,1829.63 730,1828.3C734.27,1826.97 736.8,1828.03 740,1826.7C743.2,1825.37 746,1822.03 750,1820C754,1817.97 760.73,1813.47 765,1814C769.27,1814.53 772.7,1820.85 776.7,1823.3C780.7,1825.75 785.74,1828.34 790,1829.3C794.26,1830.26 799.03,1828.66 803.3,1829.3C807.57,1829.94 811.9,1832.5 816.7,1833.3C821.5,1834.1 827.44,1834.56 833.3,1834.3C839.16,1834.04 847.96,1832.23 853.3,1831.7C858.64,1831.17 862.43,1831.54 866.7,1831C870.97,1830.46 874.67,1829.26 880,1828.3C885.33,1827.34 894.13,1825.64 900,1825C905.87,1824.36 912.43,1824.14 916.7,1824.3C920.97,1824.46 923.24,1825.09 926.7,1826C930.16,1826.91 934.04,1829.25 938.3,1830C942.56,1830.75 948.76,1830.06 953.3,1830.7C957.84,1831.34 962.96,1833.42 966.7,1834C970.44,1834.58 973.5,1833.77 976.7,1834.3C979.9,1834.83 983.5,1837.3 986.7,1837.3C989.9,1837.3 993.24,1835.63 996.7,1834.3C1000.16,1832.97 1004.57,1829.85 1008.3,1829C1012.03,1828.15 1016.53,1828.04 1020,1829C1023.47,1829.96 1026.27,1833.35 1030,1835C1033.73,1836.65 1039.03,1838.39 1043.3,1839.3C1047.57,1840.21 1052.43,1839.79 1056.7,1840.7C1060.97,1841.61 1066.27,1843.67 1070,1845C1073.73,1846.33 1076.27,1848.47 1080,1849C1083.73,1849.53 1089.3,1847.87 1093.3,1848.3C1097.3,1848.73 1098.6,1850.9 1105,1851.7C1111.4,1852.5 1126.1,1853.2 1133.3,1853.3C1140.5,1853.4 1143.06,1854.16 1150,1852.3C1156.94,1850.44 1168.7,1843.83 1176.7,1841.7C1184.7,1839.57 1193.6,1840.98 1200,1839C1206.4,1837.02 1211.37,1831.7 1216.7,1829.3C1222.03,1826.9 1227.97,1824.53 1233.3,1824C1238.63,1823.47 1244.66,1825.68 1250,1826C1255.34,1826.32 1261.9,1826.69 1266.7,1826C1271.5,1825.31 1275.74,1824.26 1280,1821.7C1284.26,1819.14 1289.57,1814.27 1293.3,1810C1297.03,1805.73 1300.36,1799.27 1303.3,1795C1306.24,1790.73 1308.76,1785.97 1311.7,1783.3C1314.64,1780.63 1317.7,1778.94 1321.7,1778.3C1325.7,1777.66 1332.44,1777.7 1336.7,1779.3C1340.96,1780.9 1344.84,1784.72 1348.3,1788.3C1351.76,1791.88 1355.36,1798.5 1358.3,1801.7C1361.24,1804.9 1363.23,1806.33 1366.7,1808.3C1370.17,1810.27 1376.38,1812.5 1380,1814C1383.62,1815.5 1386.63,1818.07 1389.3,1817.7C1391.97,1817.33 1394.19,1814.53 1396.7,1811.7C1399.21,1808.87 1402.34,1802.4 1405,1800C1407.66,1797.6 1410.37,1796.43 1413.3,1796.7C1416.23,1796.97 1420.1,1799.46 1423.3,1801.7C1426.5,1803.94 1429.56,1808.3 1433.3,1810.7C1437.04,1813.1 1442.96,1814.78 1446.7,1816.7C1450.44,1818.62 1452.7,1821.1 1456.7,1822.7C1460.7,1824.3 1467.7,1827.4 1471.7,1826.7C1475.7,1826 1478.77,1822.04 1481.7,1818.3C1484.63,1814.56 1487.6,1807.19 1490,1803.3C1492.4,1799.41 1494.73,1795.86 1496.7,1794C1498.67,1792.14 1500.44,1791.01 1502.3,1791.7C1504.16,1792.39 1506,1794.57 1508.3,1798.3C1510.6,1802.03 1513.5,1809.66 1516.7,1815C1519.9,1820.34 1524.57,1827.86 1528.3,1831.7C1532.03,1835.54 1535.46,1837.4 1540,1839C1544.54,1840.6 1551.1,1841.27 1556.7,1841.7C1562.3,1842.13 1569.67,1840.8 1575,1841.7C1580.33,1842.6 1584.93,1845.81 1590,1847.3C1595.07,1848.79 1601.8,1850.92 1606.7,1851C1611.6,1851.08 1615.86,1848.31 1620.6,1847.8C1625.34,1847.29 1632.54,1848.55 1636.3,1847.8C1640.06,1847.05 1640.61,1843.6 1644.1,1843.1C1647.59,1842.6 1653.86,1845.45 1658.1,1844.7C1662.34,1843.95 1667.1,1840.4 1670.6,1838.4C1674.1,1836.4 1676.99,1833.45 1680,1832.2C1683.01,1830.95 1686.65,1832.34 1689.4,1830.6C1692.15,1828.86 1694.96,1825.8 1697.2,1821.3C1699.44,1816.8 1701.4,1810.5 1703.4,1802.5C1705.4,1794.5 1707.94,1782.29 1709.7,1771.3C1711.46,1760.31 1713.06,1746.81 1714.4,1733.8C1715.74,1720.79 1717,1705.01 1718.1,1690C1719.2,1674.99 1720.39,1654.99 1721.3,1640C1722.21,1625.01 1722.81,1606.8 1723.8,1596.3C1724.79,1585.8 1726.25,1573.41 1727.5,1574.4C1728.75,1575.39 1730.35,1593 1731.6,1602.5C1732.85,1612 1734.05,1626.79 1735.3,1633.8C1736.55,1640.81 1737.99,1645.8 1739.4,1646.3C1740.81,1646.8 1742.6,1643.91 1744.1,1636.9C1745.6,1629.89 1747.41,1612.5 1748.8,1602.5C1750.19,1592.5 1751.46,1580.38 1752.8,1574.4C1754.14,1568.42 1755.84,1564.6 1757.2,1565.1C1758.56,1565.6 1760.05,1570.51 1761.3,1577.5C1762.55,1584.49 1763.75,1598.8 1765,1608.8C1766.25,1618.8 1767.69,1631.01 1769.1,1640C1770.51,1648.99 1772.06,1657 1773.8,1665C1775.54,1673 1778,1683.25 1780,1690C1782,1696.75 1783.29,1702.45 1786.3,1707.2C1789.31,1711.95 1795.81,1715.44 1798.8,1719.7C1801.79,1723.96 1803,1727.54 1805,1733.8C1807,1740.06 1809.3,1751.31 1811.3,1758.8C1813.3,1766.29 1815.5,1774.86 1817.5,1780.6C1819.5,1786.34 1821.8,1790.94 1823.8,1794.7C1825.8,1798.46 1828,1802.24 1830,1804.1C1832,1805.96 1834.04,1806.16 1836.3,1806.3C1838.56,1806.44 1841.11,1804.5 1844.1,1805C1847.09,1805.5 1851.26,1807.3 1855,1809.4C1858.74,1811.5 1864,1816.6 1867.5,1818.1C1871,1819.6 1873.16,1817.89 1876.9,1818.8C1880.64,1819.71 1886.9,1822.15 1890.9,1823.8C1894.9,1825.45 1898.64,1828.25 1901.9,1829.1C1905.16,1829.95 1908.31,1827.85 1911.3,1829.1C1914.29,1830.35 1917.61,1835.01 1920.6,1836.9C1923.59,1838.79 1926.5,1840.15 1930,1840.9C1933.5,1841.65 1938.5,1841.14 1942.5,1841.6C1946.5,1842.06 1947.99,1842.95 1955,1843.8C1962.01,1844.65 1976.3,1846.26 1986.3,1846.9C1996.3,1847.54 2010.01,1847.4 2017.5,1847.8C2024.99,1848.2 2027.1,1849.35 2033.1,1849.4C2039.1,1849.45 2051.5,1848.31 2055,1848.1" fill="none" stroke="#993A00" stroke-width="9" stroke-linejoin="round" stroke-linecap="butt"/>
<path transform="translate(0,0.4)" d="M76.7,2197.3C82.03,2196.93 96.67,2195.1 110,2195C123.33,2194.9 144,2196.97 160,2196.7C176,2196.43 195.07,2194.37 210,2193.3C224.93,2192.23 241.57,2190.8 253.3,2190C265.03,2189.2 274.76,2190.17 283.3,2188.3C291.84,2186.43 300.3,2182.03 306.7,2178.3C313.1,2174.57 318.77,2169.53 323.3,2165C327.83,2160.47 331.8,2153.73 335,2150C338.2,2146.27 340.63,2141.7 343.3,2141.7C345.97,2141.7 348.5,2146 351.7,2150C354.9,2154 358.77,2161.37 363.3,2166.7C367.83,2172.03 373.6,2179.57 380,2183.3C386.4,2187.03 397.43,2187.97 403.3,2190C409.17,2192.03 410.3,2195.31 416.7,2196C423.1,2196.69 436.37,2194.09 443.3,2194.3C450.23,2194.51 454.13,2197.56 460,2197.3C465.87,2197.04 474.13,2194.51 480,2192.7C485.87,2190.89 490.83,2187.76 496.7,2186C502.57,2184.24 510.3,2183.99 516.7,2181.7C523.1,2179.41 530.3,2173.84 536.7,2171.7C543.1,2169.56 549.77,2168.57 556.7,2168.3C563.63,2168.03 574.14,2169.73 580,2170C585.86,2170.27 587.97,2169.36 593.3,2170C598.63,2170.64 607.43,2172.4 613.3,2174C619.17,2175.6 625.46,2178.08 630,2180C634.54,2181.92 637.43,2185.57 641.7,2186C645.97,2186.43 651.1,2183.66 656.7,2182.7C662.3,2181.74 671.9,2180 676.7,2180C681.5,2180 683.77,2182.7 686.7,2182.7C689.63,2182.7 691.54,2179.9 695,2180C698.46,2180.1 703.77,2183.46 708.3,2183.3C712.83,2183.14 718.23,2180.17 723.3,2179C728.37,2177.83 735.2,2177.33 740,2176C744.8,2174.67 749.03,2172.03 753.3,2170.7C757.57,2169.37 762.96,2167.38 766.7,2167.7C770.44,2168.02 773.5,2170.73 776.7,2172.7C779.9,2174.67 783.5,2178.4 786.7,2180C789.9,2181.6 792.44,2182.7 796.7,2182.7C800.96,2182.7 807.44,2180.7 813.3,2180C819.16,2179.3 827.96,2178.67 833.3,2178.3C838.64,2177.93 841.63,2177.27 846.7,2177.7C851.77,2178.13 858.6,2181 865,2181C871.4,2181 880.03,2178.23 886.7,2177.7C893.37,2177.17 902.44,2178.02 906.7,2177.7C910.96,2177.38 909.57,2175.86 913.3,2175.7C917.03,2175.54 925.2,2176.12 930,2176.7C934.8,2177.28 938.5,2178.61 943.3,2179.3C948.1,2179.99 955.73,2181 960,2181C964.27,2181 966.8,2179.3 970,2179.3C973.2,2179.3 975.47,2181.26 980,2181C984.53,2180.74 993.77,2179.19 998.3,2177.7C1002.83,2176.21 1005.63,2172.93 1008.3,2171.7C1010.97,2170.47 1012.6,2169.63 1015,2170C1017.4,2170.37 1020.37,2171.87 1023.3,2174C1026.23,2176.13 1029.56,2181.11 1033.3,2183.3C1037.04,2185.49 1041.9,2186.1 1046.7,2187.7C1051.5,2189.3 1058.5,2192.66 1063.3,2193.3C1068.1,2193.94 1072.96,2191.16 1076.7,2191.7C1080.44,2192.24 1082.97,2195.8 1086.7,2196.7C1090.43,2197.6 1092.54,2196.88 1100,2197.3C1107.46,2197.72 1124.77,2199.24 1133.3,2199.3C1141.83,2199.36 1146.36,2199.62 1153.3,2197.7C1160.24,2195.78 1169.76,2189.44 1176.7,2187.3C1183.64,2185.16 1190.3,2185.74 1196.7,2184.3C1203.1,2182.86 1211.37,2180.06 1216.7,2178.3C1222.03,2176.54 1226.54,2174.74 1230,2173.3C1233.46,2171.86 1235.1,2169.56 1238.3,2169.3C1241.5,2169.04 1246,2171.16 1250,2171.7C1254,2172.24 1259.57,2173.24 1263.3,2172.7C1267.03,2172.16 1270.36,2169.16 1273.3,2168.3C1276.24,2167.44 1278.5,2169.43 1281.7,2167.3C1284.9,2165.17 1290.1,2159.1 1293.3,2155C1296.5,2150.9 1299.3,2145.7 1301.7,2141.7C1304.1,2137.7 1305.64,2132.83 1308.3,2130C1310.96,2127.17 1313.76,2125.33 1318.3,2124C1322.84,2122.67 1332.16,2120.74 1336.7,2121.7C1341.24,2122.66 1343.24,2125.74 1346.7,2130C1350.16,2134.26 1354.04,2143.77 1358.3,2148.3C1362.56,2152.83 1368.76,2155.79 1373.3,2158.3C1377.84,2160.81 1382.7,2163.84 1386.7,2164C1390.7,2164.16 1395.1,2161.65 1398.3,2159.3C1401.5,2156.95 1404.03,2151.43 1406.7,2149.3C1409.37,2147.17 1412.07,2145.62 1415,2146C1417.93,2146.38 1421,2149.03 1425,2151.7C1429,2154.37 1435.47,2159.88 1440,2162.7C1444.53,2165.52 1449.57,2167.97 1453.3,2169.3C1457.03,2170.63 1460.1,2171.32 1463.3,2171C1466.5,2170.68 1470.1,2169.59 1473.3,2167.3C1476.5,2165.01 1480.36,2160.8 1483.3,2156.7C1486.24,2152.6 1489.14,2146.24 1491.7,2141.7C1494.26,2137.16 1497.17,2129.37 1499.3,2128.3C1501.43,2127.23 1503.02,2131 1505,2135C1506.98,2139 1509.3,2147.7 1511.7,2153.3C1514.1,2158.9 1517.07,2165.3 1520,2170C1522.93,2174.7 1526.8,2179.93 1530,2182.7C1533.2,2185.47 1536.27,2186.4 1540,2187.3C1543.73,2188.2 1549.03,2187.6 1553.3,2188.3C1557.57,2189 1562.7,2191.27 1566.7,2191.7C1570.7,2192.13 1574.84,2190.36 1578.3,2191C1581.76,2191.64 1583.76,2194.9 1588.3,2195.7C1592.84,2196.5 1600.52,2196.46 1606.7,2196C1612.88,2195.54 1621.92,2193.31 1626.9,2192.8C1631.88,2192.29 1634.55,2194.14 1637.8,2192.8C1641.05,2191.46 1643.95,2186.4 1647.2,2184.4C1650.45,2182.4 1654.36,2181.1 1658.1,2180.3C1661.84,2179.5 1667.1,2180.15 1670.6,2179.4C1674.1,2178.65 1676.99,2176.45 1680,2175.6C1683.01,2174.75 1686.65,2175.84 1689.4,2174.1C1692.15,2172.36 1694.96,2168.96 1697.2,2164.7C1699.44,2160.44 1701.4,2154.25 1703.4,2147.5C1705.4,2140.75 1707.84,2132.5 1709.7,2122.5C1711.56,2112.5 1713.5,2097 1715,2085C1716.5,2073 1717.95,2060 1719.1,2047.5C1720.25,2035 1721.35,2017.89 1722.2,2006.9C1723.05,1995.91 1723.55,1984.54 1724.4,1978.8C1725.25,1973.06 1726.35,1970.01 1727.5,1971C1728.65,1971.99 1730.3,1980.76 1731.6,1985C1732.9,1989.24 1734.26,1997.5 1735.6,1997.5C1736.94,1997.5 1738.64,1992.5 1740,1985C1741.36,1977.5 1742.69,1963.1 1744.1,1950.6C1745.51,1938.1 1747.46,1917.4 1748.8,1906.9C1750.14,1896.4 1751.41,1889.59 1752.5,1885C1753.59,1880.41 1754.45,1877.19 1755.6,1878.2C1756.75,1879.21 1758.39,1883.2 1759.7,1891.3C1761.01,1899.4 1762.46,1914.8 1763.8,1928.8C1765.14,1942.8 1766.5,1964.8 1768.1,1978.8C1769.7,1992.8 1771.9,2005.8 1773.8,2016.3C1775.7,2026.8 1777.76,2036.91 1780,2044.4C1782.24,2051.89 1784.55,2058.11 1787.8,2063.1C1791.05,2068.09 1797.29,2071.09 1800.3,2075.6C1803.31,2080.11 1804.6,2084.79 1806.6,2091.3C1808.6,2097.81 1810.8,2109.31 1812.8,2116.3C1814.8,2123.29 1816.84,2129.75 1819.1,2135C1821.36,2140.25 1824.4,2145.85 1826.9,2149.1C1829.4,2152.35 1831.71,2154.4 1834.7,2155.3C1837.69,2156.2 1842.61,2154.2 1845.6,2154.7C1848.59,2155.2 1850.89,2156.45 1853.4,2158.4C1855.91,2160.35 1858.55,2164.79 1861.3,2166.9C1864.05,2169.01 1867.86,2170.96 1870.6,2171.6C1873.34,2172.24 1874.9,2170.36 1878.4,2170.9C1881.9,2171.44 1888.74,2173.64 1892.5,2175C1896.26,2176.36 1898.89,2178.7 1901.9,2179.4C1904.91,2180.1 1908.55,2178.25 1911.3,2179.4C1914.05,2180.55 1916.11,2185.1 1919.1,2186.6C1922.09,2188.1 1926.26,2187.9 1930,2188.8C1933.74,2189.7 1937.49,2191.7 1942.5,2192.2C1947.51,2192.7 1956.29,2191.45 1961.3,2191.9C1966.31,2192.35 1969.8,2194.7 1973.8,2195C1977.8,2195.3 1980.81,2193.99 1986.3,2193.8C1991.79,2193.61 2002.1,2193.11 2008.1,2193.8C2014.1,2194.49 2018.79,2197.41 2023.8,2198.1C2028.81,2198.79 2034.9,2198.45 2039.4,2198.1C2043.9,2197.75 2049.9,2196.25 2051.9,2195.9" fill="none" stroke="#000" stroke-width="9" stroke-linejoin="round" stroke-linecap="butt"/>
<path transform="translate(0,0.4)" d="M73.3,2546C81.84,2545.68 107.5,2544.43 126.7,2544C145.9,2543.57 177.3,2543.67 193.3,2543.3C209.3,2542.93 218.16,2542.5 226.7,2541.7C235.24,2540.9 241.1,2539.9 246.7,2538.3C252.3,2536.7 257.97,2535.16 261.7,2531.7C265.43,2528.24 267.6,2522.84 270,2516.7C272.4,2510.56 274.83,2501.3 276.7,2493.3C278.57,2485.3 280.1,2475.23 281.7,2466.7C283.3,2458.17 285.26,2447.2 286.7,2440C288.14,2432.8 289.26,2425.84 290.7,2421.7C292.14,2417.56 294.1,2414.1 295.7,2414.1C297.3,2414.1 298.94,2417.56 300.7,2421.7C302.46,2425.84 304.78,2433.34 306.7,2440C308.62,2446.66 310.84,2455.3 312.7,2463.3C314.56,2471.3 316.6,2482.53 318.3,2490C320,2497.47 321.43,2504.93 323.3,2510C325.17,2515.07 327.86,2519.19 330,2521.7C332.14,2524.21 334.3,2524.9 336.7,2525.7C339.1,2526.5 342.07,2525.21 345,2526.7C347.93,2528.19 351.53,2532.44 355,2535C358.47,2537.56 361.63,2541.1 366.7,2542.7C371.77,2544.3 377.1,2544.79 386.7,2545C396.3,2545.21 417.64,2544.43 426.7,2544C435.76,2543.57 436.9,2542.14 443.3,2542.3C449.7,2542.46 458.7,2544.57 466.7,2545C474.7,2545.43 483.7,2545.43 493.3,2545C502.9,2544.57 516.03,2543.37 526.7,2542.3C537.37,2541.23 552,2538.4 560,2538.3C568,2538.2 571.21,2541.16 576.7,2541.7C582.19,2542.24 581.5,2541.28 594.3,2541.7C607.1,2542.12 632.32,2544.41 656.7,2544.3C681.08,2544.19 729.1,2541.96 746.7,2541C764.3,2540.04 760.3,2538.19 766.7,2538.3C773.1,2538.41 780.3,2540.9 786.7,2541.7C793.1,2542.5 791.77,2543.04 806.7,2543.3C821.63,2543.56 862.94,2543.56 880,2543.3C897.06,2543.04 897.3,2541.7 913.3,2541.7C929.3,2541.7 964,2543.3 980,2543.3C996,2543.3 1004.77,2541.54 1013.3,2541.7C1021.83,2541.86 1026.36,2544.04 1033.3,2544.3C1040.24,2544.56 1046.03,2542.98 1056.7,2543.3C1067.37,2543.62 1088.06,2545.82 1100,2546.3C1111.94,2546.78 1122.29,2546.7 1131.3,2546.3C1140.31,2545.9 1146.3,2544.46 1156.3,2543.8C1166.3,2543.14 1182.81,2542.6 1193.8,2542.2C1204.79,2541.8 1215,2541.65 1225,2541.3C1235,2540.95 1248.3,2541.6 1256.3,2540C1264.3,2538.4 1268.01,2532.8 1275,2531.3C1281.99,2529.8 1292.99,2530.46 1300,2530.6C1307.01,2530.74 1314.3,2531.69 1318.8,2532.2C1323.3,2532.71 1323.6,2533.45 1328.1,2533.8C1332.6,2534.15 1341.89,2533.81 1346.9,2534.4C1351.91,2534.99 1353.9,2537.1 1359.4,2537.5C1364.9,2537.9 1374.8,2537.49 1381.3,2536.9C1387.8,2536.31 1395.01,2534.95 1400,2533.8C1404.99,2532.65 1409,2530.1 1412.5,2529.7C1416,2529.3 1418.4,2531.04 1421.9,2531.3C1425.4,2531.56 1429.65,2531.91 1434.4,2531.3C1439.15,2530.69 1447.1,2529.76 1451.6,2527.5C1456.1,2525.24 1459.25,2521.34 1462.5,2517.2C1465.75,2513.06 1468.89,2507.86 1471.9,2501.6C1474.91,2495.34 1478.55,2485.35 1481.3,2478.1C1484.05,2470.85 1486.86,2462.04 1489.1,2456.3C1491.34,2450.56 1493.06,2445.7 1495.3,2442.2C1497.54,2438.7 1500.35,2435.9 1503.1,2434.4C1505.85,2432.9 1509.99,2435.3 1512.5,2432.8C1515.01,2430.3 1516.8,2426.05 1518.8,2418.8C1520.8,2411.55 1523.26,2398.51 1525,2387.5C1526.74,2376.49 1528.2,2362.99 1529.7,2350C1531.2,2337.01 1533.15,2316.8 1534.4,2306.3C1535.65,2295.8 1536.51,2289.34 1537.5,2284.4C1538.49,2279.46 1539.5,2274.41 1540.6,2275.4C1541.7,2276.39 1543.15,2281.16 1544.4,2290.6C1545.65,2300.04 1547.01,2317.89 1548.4,2334.4C1549.79,2350.91 1551.34,2375.3 1553.1,2393.8C1554.86,2412.3 1557.4,2435.76 1559.4,2450C1561.4,2464.24 1563.7,2475.84 1565.6,2482.8C1567.5,2489.76 1569.19,2493.23 1571.3,2493.5C1573.41,2493.77 1576.34,2488.9 1578.8,2484.5C1581.26,2480.1 1584.54,2473.6 1586.7,2466C1588.86,2458.4 1590.72,2450.28 1592.3,2437C1593.88,2423.72 1595.29,2402.71 1596.6,2383C1597.91,2363.29 1599.17,2334.23 1600.5,2313.8C1601.83,2293.37 1603.48,2268.95 1604.9,2255.3C1606.32,2241.65 1608.01,2228.5 1609.4,2228.5C1610.79,2228.5 1612.4,2241.65 1613.6,2255.3C1614.8,2268.95 1615.86,2294.04 1616.9,2313.8C1617.94,2333.56 1619.06,2358 1620.1,2378.8C1621.14,2399.6 1622.36,2425.61 1623.4,2443.8C1624.44,2461.99 1625.3,2481.06 1626.6,2492.5C1627.9,2503.94 1629.42,2509.57 1631.5,2515.3C1633.58,2521.03 1636.22,2525.45 1639.6,2528.3C1642.98,2531.15 1648.44,2531.96 1652.6,2533.1C1656.76,2534.24 1661.17,2535.4 1665.6,2535.4C1670.03,2535.4 1676.4,2534.51 1680.3,2533.1C1684.2,2531.69 1686.11,2528.41 1690,2526.6C1693.89,2524.79 1700.44,2524.14 1704.6,2521.8C1708.76,2519.46 1712.61,2514.61 1716,2512C1719.39,2509.39 1722.94,2509.13 1725.8,2505.5C1728.66,2501.87 1731.56,2495.54 1733.9,2489.3C1736.24,2483.06 1738.48,2473.01 1740.4,2466.5C1742.32,2459.99 1744.08,2452.5 1745.9,2448.6C1747.72,2444.7 1749.93,2441.83 1751.8,2442.1C1753.67,2442.37 1755.52,2446.4 1757.6,2450.3C1759.68,2454.2 1762.35,2461.3 1764.8,2466.5C1767.25,2471.7 1770.31,2478.64 1772.9,2482.8C1775.49,2486.96 1778.41,2490.42 1781,2492.5C1783.59,2494.58 1785.98,2495.43 1789.1,2495.8C1792.22,2496.17 1796.6,2494.54 1800.5,2494.8C1804.4,2495.06 1809.34,2497.14 1813.5,2497.4C1817.66,2497.66 1822.34,2497.44 1826.5,2496.4C1830.66,2495.36 1835.6,2493.6 1839.5,2490.9C1843.4,2488.2 1846.74,2482.62 1850.9,2479.5C1855.06,2476.38 1861.08,2474.1 1865.5,2471.4C1869.92,2468.7 1874.6,2464.68 1878.5,2462.6C1882.4,2460.52 1886.78,2458.7 1889.9,2458.4C1893.02,2458.1 1895.66,2458.62 1898,2460.7C1900.34,2462.78 1902.16,2466.06 1904.5,2471.4C1906.84,2476.74 1909.99,2486.56 1912.6,2494.1C1915.21,2501.64 1918.19,2511.99 1920.8,2518.5C1923.41,2525.01 1926.05,2531.42 1928.9,2534.8C1931.75,2538.18 1934.7,2538.46 1938.6,2539.6C1942.5,2540.74 1947.83,2541.21 1953.3,2541.9C1958.77,2542.59 1965.52,2543.48 1972.8,2543.9C1980.08,2544.32 1990.48,2544.04 1998.8,2544.5C2007.12,2544.96 2018.05,2546.54 2024.8,2546.8C2031.55,2547.06 2036.33,2546.36 2041,2546.1C2045.67,2545.84 2051.92,2545.34 2054,2545.2" fill="none" stroke="#20551A" stroke-width="9" stroke-linejoin="round" stroke-linecap="butt"/>
<text transform="translate(989.13,2841.22) scale(0.6708,0.6897)" font-size="100"><tspan font-weight="bold">ppm</tspan></text>
<text transform="translate(1005.72,2964.92) scale(0.7692,0.8656)" font-size="100">(</text>
<text transform="translate(1033.31,2966.09) scale(0.8922,0.9057)" font-size="100"><tspan font-weight="bold">b</tspan></text>
<text transform="translate(1084.4,2964.92) scale(0.7654,0.8656)" font-size="100">)</text>
<text transform="translate(99.9,1935.81) scale(0.7005,0.6930)" font-size="100">Cork</text>
<text transform="translate(90.52,2284.09) scale(0.6944,0.7045)" font-size="100">C-B<tspan font-style="italic">i</tspan>B</text>
<text transform="translate(90.52,2627.98) scale(0.6957,0.7011)" font-size="100">C-<tspan font-style="italic">g</tspan>-PMMA</text>
<text transform="translate(73.4,2781.95) scale(0.7077,0.7269)" font-size="100" text-anchor="middle">200</text>
<text transform="translate(271.21,2781.95) scale(0.7077,0.7269)" font-size="100" text-anchor="middle">180</text>
<text transform="translate(469.02,2781.95) scale(0.7077,0.7269)" font-size="100" text-anchor="middle">160</text>
<text transform="translate(666.83,2781.95) scale(0.7077,0.7269)" font-size="100" text-anchor="middle">140</text>
<text transform="translate(864.64,2781.95) scale(0.7077,0.7269)" font-size="100" text-anchor="middle">120</text>
<text transform="translate(1062.45,2781.95) scale(0.7077,0.7269)" font-size="100" text-anchor="middle">100</text>
<text transform="translate(1260.26,2781.95) scale(0.7077,0.7269)" font-size="100" text-anchor="middle">80</text>
<text transform="translate(1458.07,2781.95) scale(0.7077,0.7269)" font-size="100" text-anchor="middle">60</text>
<text transform="translate(1655.88,2781.95) scale(0.7077,0.7269)" font-size="100" text-anchor="middle">40</text>
<text transform="translate(1853.69,2781.95) scale(0.7077,0.7269)" font-size="100" text-anchor="middle">20</text>
<text transform="translate(2051.5,2781.95) scale(0.7077,0.7269)" font-size="100" text-anchor="middle">0</text>
</svg>
</body></html>
